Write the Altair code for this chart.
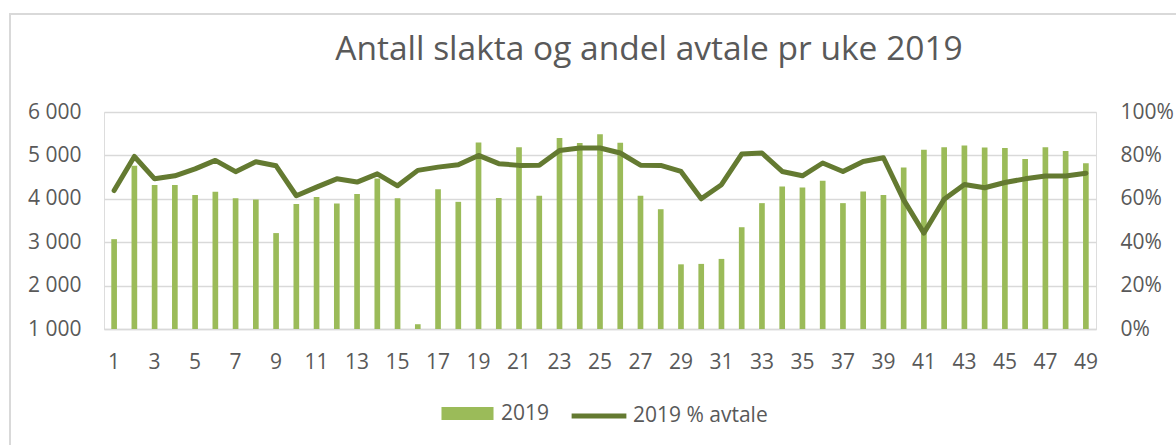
import altair as alt
import pandas as pd

weeks = list(range(1, 50))
antall = [3070, 4760, 4320, 4320, 4090, 4160, 4010, 3985, 3210, 3880,
          4040, 3890, 4110, 4470, 4015, 1110, 4220, 3930, 5300, 4020,
          5190, 4070, 5400, 5285, 5485, 5290, 4070, 3760, 2490, 2500,
          2615, 3345, 3900, 4285, 4260, 4415, 3900, 4170, 4090, 4720,
          5130, 5185, 5230, 5180, 5170, 4915, 5190, 5100, 4820]
andel_pct = [63.8, 79.5, 69.2, 70.6, 73.8, 77.7, 72.5, 77.1, 75.2, 61.4,
             65.4, 69.2, 67.7, 71.5, 66.0, 73.1, 74.6, 75.7, 80.0, 76.2,
             75.4, 75.5, 82.3, 83.4, 83.4, 81.1, 75.5, 75.4, 72.6, 60.0,
             66.5, 80.6, 81.1, 72.6, 70.6, 76.5, 72.6, 77.2, 78.9, 59.5,
             44.2, 59.8, 66.6, 65.1, 67.5, 69.2, 70.5, 70.5, 71.8]
series = ["2019", "2019 % avtale"]
x_labels = [w for w in weeks if w % 2 == 1]
left_ticks = [1000, 2000, 3000, 4000, 5000, 6000]
right_ticks = [0, 0.2, 0.4, 0.6, 0.8, 1.0]

BAR = "#9BBB59"
LINE = "#647A31"
TXT = "#595959"
GRID = "#D9D9D9"
FONT = "Open Sans"

bars_df = pd.DataFrame({"week": weeks, "antall": antall, "serie": series[0]})
line_df = pd.DataFrame({"week": weeks, "andel": [v / 100 for v in andel_pct], "serie": series[1]})

bar_legend = alt.Legend(
    orient="none", legendX=336, legendY=274, direction="horizontal", title=None,
    labelFont=FONT, labelFontSize=21, labelColor=TXT, labelOffset=6,
    symbolType="M-0.95,-0.24H0.95V0.24H-0.95Z", symbolSize=3000,
    symbolStrokeWidth=0, symbolOpacity=1, padding=0,
)
line_legend = alt.Legend(
    orient="none", legendX=465, legendY=274, direction="horizontal", title=None,
    labelFont=FONT, labelFontSize=21, labelColor=TXT, labelOffset=4,
    symbolType="stroke", symbolSize=3000, symbolStrokeWidth=5, symbolOpacity=1,
    padding=0,
)

x_enc = alt.X(
    "week:O",
    scale=alt.Scale(paddingInner=0.72, paddingOuter=0.36),
    axis=alt.Axis(values=x_labels, title=None, labelAngle=0, ticks=False,
                  domainColor=GRID, domainWidth=1.5, labelPadding=22,
                  labelFont=FONT, labelFontSize=21, labelColor=TXT),
)

# decorative outer frame of the chart area (not data)
frame = alt.Chart(pd.DataFrame({"f": [0]})).mark_rect(
    fill=None, stroke=GRID, strokeWidth=2
).encode(x=alt.value(-94), y=alt.value(-98), x2=alt.value(1120), y2=alt.value(400))

bars = alt.Chart(bars_df).mark_bar(opacity=1).encode(
    x=x_enc,
    y=alt.Y("antall:Q",
            scale=alt.Scale(domain=[1000, 6000], nice=False, zero=False),
            axis=alt.Axis(values=left_ticks, orient="left", title=None,
                          labelExpr="replace(format(datum.value, ','), ',', ' ')",
                          grid=True, gridColor=GRID, gridWidth=1.5, domain=False,
                          ticks=False, labelPadding=23, labelFont=FONT,
                          labelFontSize=21, labelColor=TXT)),
    y2=alt.datum(1000),
    fill=alt.Fill("serie:N", scale=alt.Scale(domain=[series[0]], range=[BAR]), legend=bar_legend),
)

line = alt.Chart(line_df).mark_line(strokeWidth=5, strokeJoin="round", strokeCap="round").encode(
    x=x_enc,
    y=alt.Y("andel:Q",
            scale=alt.Scale(domain=[0, 1], nice=False),
            axis=alt.Axis(values=right_ticks, orient="right", format=".0%", title=None,
                          grid=False, domain=False, ticks=False, labelPadding=24,
                          labelFont=FONT, labelFontSize=21, labelColor=TXT)),
    stroke=alt.Stroke("serie:N", scale=alt.Scale(domain=[series[1]], range=[LINE]), legend=line_legend),
)

chart = alt.layer(frame, bars, line).resolve_scale(y="independent").properties(
    width=992, height=217, autosize="none",
    padding={"left": 104, "top": 112, "right": 80, "bottom": 116},
    title=alt.TitleParams("Antall slakta og andel avtale pr uke 2019", font=FONT,
                          fontSize=33.5, fontWeight="normal", color=TXT,
                          anchor="middle", dx=49, offset=-54),
).configure_view(stroke=None).configure(background="white")

chart.save("out.html", embed_options={"renderer": "svg", "actions": False})
